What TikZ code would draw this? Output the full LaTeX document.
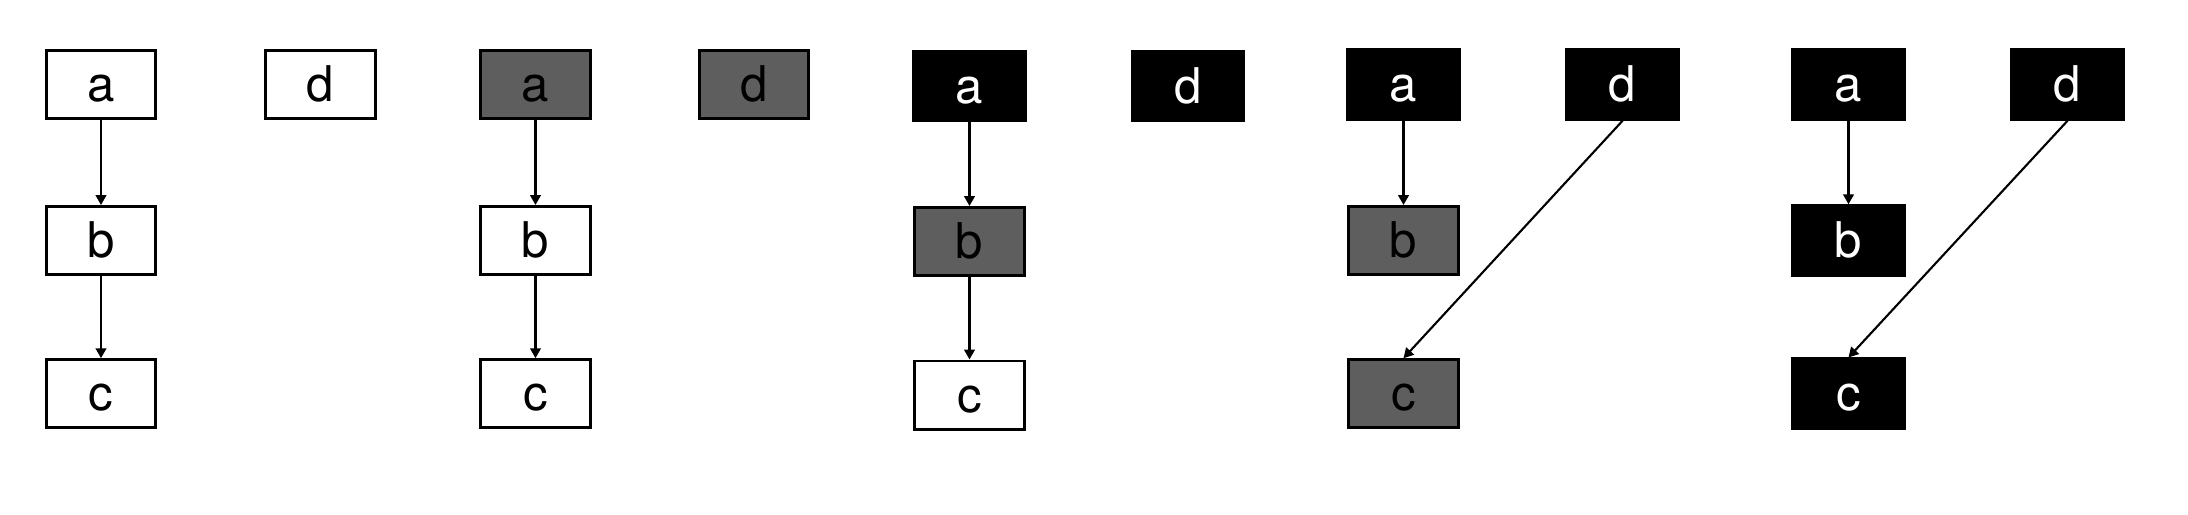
\documentclass[tikz,border=0pt]{standalone}
\usepackage{fontspec}
\setmainfont{TeX Gyre Heros}
\usetikzlibrary{arrows.meta}
\begin{document}
\begin{tikzpicture}[x=0.01cm,y=-0.01cm,
  wbox/.style={draw,line width=0.85pt,fill=white,minimum width=1.093cm,minimum height=0.68cm,inner sep=0pt,font=\fontsize{14}{16}\selectfont,text height=9.8pt,text depth=0pt},
  gbox/.style={wbox,fill=black!63},
  kbox/.style={wbox,fill=black,text=white,minimum width=1.115cm,minimum height=0.695cm},
  link/.style={-{Triangle[length=2.8pt,width=3pt]},line width=0.6pt}]
\useasboundingbox (0,0) rectangle (2188,514);
\node[wbox] (a1) at (101,84.5) {a};
\node[wbox] (d1) at (320.5,84.5) {d};
\node[wbox] (b1) at (101,240.5) {b};
\node[wbox] (c1) at (101,393.7) {c};
\draw[link] (a1) -- (b1);
\draw[link] (b1) -- (c1);
\node[gbox] (a2) at (535.5,84.5) {a};
\node[gbox] (d2) at (754,84.5) {d};
\node[wbox] (b2) at (535.5,240.5) {b};
\node[wbox] (c2) at (535.5,393.7) {c};
\draw[link] (a2) -- (b2);
\draw[link] (b2) -- (c2);
\node[kbox] (a3) at (969.5,85.8) {a};
\node[kbox] (d3) at (1188,85.8) {d};
\node[gbox] (b3) at (969.5,241.5) {b};
\node[wbox] (c3) at (969.5,395) {c};
\draw[link] (a3) -- (b3);
\draw[link] (b3) -- (c3);
\node[kbox] (a4) at (1403.5,84.5) {a};
\node[kbox] (d4) at (1622.5,84.5) {d};
\node[gbox] (b4) at (1403.5,240.5) {b};
\node[gbox] (c4) at (1403.5,393.7) {c};
\draw[link] (a4) -- (b4);
\draw[link] (d4.south) -- (c4.north);
\node[kbox] (a5) at (1848.5,84.5) {a};
\node[kbox] (d5) at (2067.5,84.5) {d};
\node[kbox] (b5) at (1848.5,240.5) {b};
\node[kbox] (c5) at (1848.5,393.7) {c};
\draw[link] (a5) -- (b5);
\draw[link] (d5.south) -- (c5.north);
\end{tikzpicture}
\end{document}
